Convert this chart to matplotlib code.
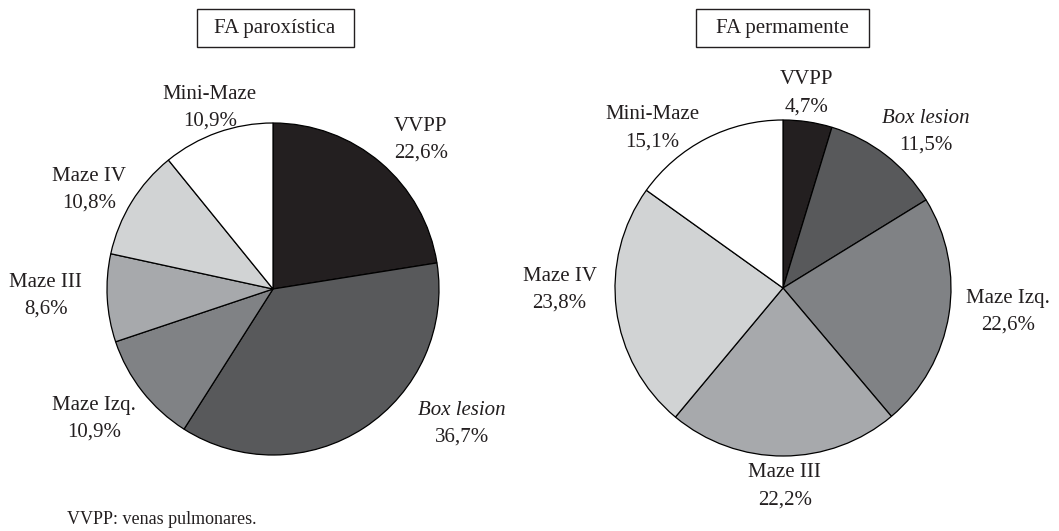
import matplotlib.pyplot as plt
from matplotlib.patches import Rectangle

plt.rcParams['font.family'] = ['Liberation Serif', 'DejaVu Serif']

# datos (sentido horario desde arriba)
categorias = ['VVPP', 'Box lesion', 'Maze Izq.', 'Maze III', 'Maze IV', 'Mini-Maze']
paroxistica = [22.6, 36.7, 10.9, 8.6, 10.8, 10.9]
permanente = [4.7, 11.5, 22.6, 22.2, 23.8, 15.1]
etiquetas_par = ['22,6%', '36,7%', '10,9%', '8,6%', '10,8%', '10,9%']
etiquetas_per = ['4,7%', '11,5%', '22,6%', '22,2%', '23,8%', '15,1%']
titulos = ['FA paroxística', 'FA permamente']

grises = ['#231f20', '#58595b', '#808285', '#a7a9ac', '#d1d3d4', '#ffffff']
ink = '#231f20'

# posiciones de las etiquetas (en radios, relativas al centro)
pos_par = [(0.89, 0.90), (1.14, -0.81), (-1.08, -0.78), (-1.37, -0.04), (-1.11, 0.60), (-0.38, 1.09)]
pos_per = [(0.14, 1.16), (0.85, 0.93), (1.34, -0.14), (0.01, -1.18), (-1.33, -0.01), (-0.78, 0.95)]

W, H = 1059, 531
fig = plt.figure(figsize=(W / 100, H / 100), dpi=100)

def pie_axes(cx, cy, s=500):
    # cx, cy en pixeles desde arriba-izquierda
    ax = fig.add_axes([(cx - s / 2) / W, (H - cy - s / 2) / H, s / W, s / H])
    return ax

paneles = [
    (pie_axes(273, 289), 166, paroxistica, etiquetas_par, pos_par, 275),
    (pie_axes(783, 288), 168, permanente, etiquetas_per, pos_per, 782),
]

for (ax, r, vals, pct, pos, bx), titulo in zip(paneles, titulos):
    ax.pie(vals, colors=grises, startangle=90, counterclock=False,
           wedgeprops=dict(edgecolor='black', linewidth=0.9))
    lim = 500 / (2 * r)
    ax.set_xlim(-lim, lim); ax.set_ylim(-lim, lim)
    ax.set_aspect('equal')
    ax.axis('off')
    for cat, p, (x, y) in zip(categorias, pct, pos):
        estilo = 'italic' if cat == 'Box lesion' else 'normal'
        ax.text(x, y + 0.08, cat, ha='center', va='center', fontsize=15,
                color=ink, style=estilo)
        ax.text(x, y - 0.08, p, ha='center', va='center', fontsize=15, color=ink)
    # titulo en recuadro
    bw = 157 if titulo == titulos[0] else 173
    fig.patches.append(Rectangle(((bx - bw / 2) / W, (H - 47) / H), bw / W, 38 / H,
                                 transform=fig.transFigure, fill=False,
                                 edgecolor=ink, linewidth=1.0))
    fig.text(bx / W, (H - 29) / H, titulo, ha='center', va='center',
             fontsize=15, color=ink)

fig.text(67 / W, (H - 520) / H, 'VVPP: venas pulmonares.', ha='left', va='center',
         fontsize=13, color=ink)

fig.savefig('out.png', dpi=100)
